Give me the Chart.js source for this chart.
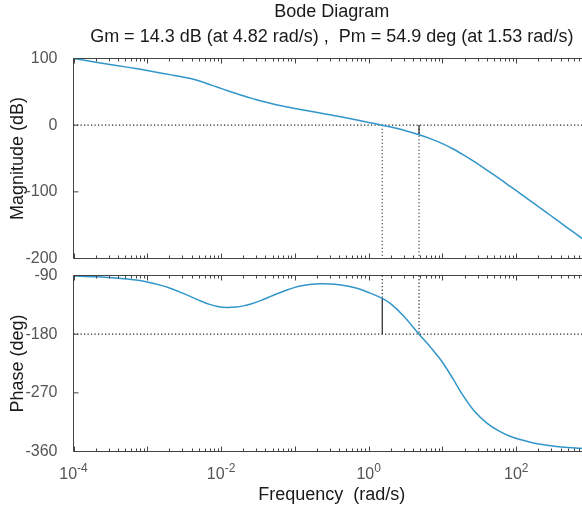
<!DOCTYPE html>
<html>
<head>
<meta charset="utf-8">
<script src="https://cdn.jsdelivr.net/npm/chart.js@4.4.0/dist/chart.umd.min.js"></script>
<style>
  html, body { margin: 0; padding: 0; background: #fff; overflow: hidden; }
  #wrap { position: relative; width: 582px; height: 508px; overflow: hidden; }
  canvas { position: absolute; left: 0; }
  #magChart { top: 0; }
  #phaseChart { top: 266px; }
</style>
</head>
<body>
<div id="wrap">
  <canvas id="magChart" width="600" height="266"></canvas>
  <canvas id="phaseChart" width="600" height="242"></canvas>
</div>
<script>
// frequences (rad/s) et valeurs
const freq = [1e-4, 2e-4, 4e-4, 7e-4, 1e-3, 1.5e-3, 2e-3, 3e-3, 4e-3, 5.5e-3,
              7e-3, 9e-3, 0.012, 0.016, 0.02, 0.026, 0.035, 0.045, 0.06, 0.08,
              0.1, 0.13, 0.17, 0.22, 0.3, 0.4, 0.55, 0.75, 1, 1.53,
              2, 3, 4.82, 7, 10, 14, 19, 27, 40, 58,
              82, 120, 170, 250, 350, 500, 700, 1000];
const magDb = [100, 94.5, 89.2, 84.9, 81.9, 78.3, 75.8, 72.4, 69.5, 65,
               61, 56.8, 52, 47.4, 44, 40.2, 36.2, 33.1, 29.9, 27.1,
               25, 22.7, 20.4, 18.2, 15.5, 12.9, 9.9, 6.9, 4.1, 0,
               -2.8, -7.6, -14.3, -20.5, -27.7, -35.8, -44.3, -54.8, -67.4, -79.6,
               -91.4, -104.4, -116.5, -130, -141.8, -154.3, -166.1, -178.6];
const phaseDeg = [-90.8, -92, -94.1, -97, -100, -104.8, -109.3, -117, -123.1, -129.9,
                  -134.3, -137.5, -139, -138.3, -136.6, -133.2, -128.2, -123, -117.2, -111.8,
                  -108.2, -105.3, -103.5, -102.7, -102.9, -104.2, -107, -110.8, -116, -125.1,
                  -133.5, -152.5, -180, -201, -223, -249, -274, -298, -316.5, -328.5,
                  -336.5, -342.5, -346.8, -350.2, -352.4, -354, -355.1, -356];

const xLabelVals = [1e-4, 1e-2, 1, 1e2];
const magTicks = [100, 0, -100, -200];
const phaseTicks = [-90, -180, -270, -360];

// marges
const gmDb = 14.3, gmFreq = 4.82;
const pmDeg = 54.9, pmFreq = 1.53;

const FONT = '"Liberation Sans", Arial, Helvetica, sans-serif';
const curveColor = '#3296ca';

function curve(ys) {
    return {
        data: freq.map((f, i) => ({ x: f, y: ys[i] })),
        borderColor: curveColor,
        borderWidth: 1.5,
        pointRadius: 0,
        tension: 0.3
    };
}

function guide(pts, dotted) {
    return {
        data: pts,
        borderColor: dotted ? '#222' : '#333',
        borderWidth: dotted ? 1.2 : 1.3,
        borderDash: dotted ? [1.2, 2.3] : [],
        pointRadius: 0,
        tension: 0
    };
}

// cadre + petites graduations vers l'interieur (style MATLAB)
const framePlugin = {
    id: 'frame',
    afterDatasetsDraw(chart, args, opts) {
        const { ctx, chartArea: a, scales: { x, y } } = chart;
        ctx.save();
        ctx.strokeStyle = '#444';
        ctx.lineWidth = 1;
        ctx.beginPath();
        ctx.rect(a.left, a.top, a.right - a.left, a.bottom - a.top);
        for (let d = -4; d < 3; d++) {
            for (let k = 1; k <= 9; k++) {
                const px = Math.round(x.getPixelForValue(k * Math.pow(10, d))) + 0.5;
                const len = k === 1 ? 5 : 3;
                ctx.moveTo(px, a.top); ctx.lineTo(px, a.top + len);
                ctx.moveTo(px, a.bottom); ctx.lineTo(px, a.bottom - len);
            }
        }
        opts.yTicks.forEach(v => {
            const py = y.getPixelForValue(v);
            ctx.moveTo(a.left, py); ctx.lineTo(a.left + 5, py);
        });
        ctx.stroke();
        ctx.restore();
    }
};

// etiquettes 10^n de l'axe des frequences
const expLabels = {
    id: 'expLabels',
    afterDraw(chart) {
        const { ctx, chartArea: a, scales: { x } } = chart;
        ctx.save();
        ctx.fillStyle = '#555';
        ctx.textAlign = 'left';
        ctx.textBaseline = 'alphabetic';
        xLabelVals.forEach(v => {
            const base = '10';
            const sup = String(Math.round(Math.log10(v)));
            ctx.font = '16px ' + FONT;
            const wb = ctx.measureText(base).width;
            ctx.font = '12px ' + FONT;
            const ws = ctx.measureText(sup).width;
            const sx = x.getPixelForValue(v) - (wb + ws) / 2;
            ctx.font = '16px ' + FONT;
            ctx.fillText(base, sx, a.bottom + 27.5);
            ctx.font = '12px ' + FONT;
            ctx.fillText(sup, sx + wb, a.bottom + 20.5);
        });
        ctx.restore();
    }
};

function yScale(min, max, ticks, title) {
    return {
        min: min,
        max: max,
        afterBuildTicks: s => { s.ticks = ticks.map(v => ({ value: v })); },
        afterFit: s => { s.width = 73.5; s.paddingTop = 0; s.paddingBottom = 0; },
        grid: { display: false },
        border: { display: false },
        ticks: { color: '#555', padding: 8, font: { family: FONT, size: 16 } },
        title: { display: true, text: title, color: '#1a1a1a', padding: { top: 7, bottom: 0 }, font: { family: FONT, size: 18 } }
    };
}

Chart.defaults.animation = false;
Chart.defaults.font.family = FONT;

// --- Amplitude ---
new Chart(document.getElementById('magChart'), {
    type: 'line',
    data: {
        datasets: [
            curve(magDb),
            guide([{ x: 1e-4, y: 0 }, { x: 1e3, y: 0 }], true),
            guide([{ x: pmFreq, y: 0 }, { x: pmFreq, y: -200 }], true),
            guide([{ x: gmFreq, y: 0 }, { x: gmFreq, y: -200 }], true),
            guide([{ x: gmFreq, y: 0 }, { x: gmFreq, y: -gmDb }], false)
        ]
    },
    options: {
        responsive: false,
        layout: { padding: { left: 0, right: 10, top: 0, bottom: 7.5 } },
        scales: {
            x: { type: 'logarithmic', min: 1e-4, max: 1e3, display: false },
            y: yScale(-200, 100, magTicks, 'Magnitude (dB)')
        },
        plugins: {
            legend: { display: false },
            tooltip: { enabled: false },
            title: {
                display: true,
                fullSize: false,
                text: ['Bode Diagram', 'Gm = 14.3 dB (at 4.82 rad/s) ,  Pm = 54.9 deg (at 1.53 rad/s)'],
                color: '#1a1a1a',
                font: { family: FONT, size: 18, weight: 'normal', lineHeight: 25 / 18 },
                padding: { top: 0, bottom: 8.5 }
            },
            frame: { yTicks: magTicks }
        }
    },
    plugins: [framePlugin]
});

// --- Phase ---
new Chart(document.getElementById('phaseChart'), {
    type: 'line',
    data: {
        datasets: [
            curve(phaseDeg),
            guide([{ x: 1e-4, y: -180 }, { x: 1e3, y: -180 }], true),
            guide([{ x: pmFreq, y: -90 }, { x: pmFreq, y: -180 + pmDeg }], true),
            guide([{ x: pmFreq, y: -180 + pmDeg }, { x: pmFreq, y: -180 }], false),
            guide([{ x: gmFreq, y: -90 }, { x: gmFreq, y: -180 }], true)
        ]
    },
    options: {
        responsive: false,
        layout: { padding: { left: 0, right: 10, top: 9.5, bottom: 0 } },
        scales: {
            x: {
                type: 'logarithmic', min: 1e-4, max: 1e3,
                afterFit: s => { s.height = 56.5; },
                grid: { display: false },
                border: { display: false },
                ticks: { display: false },
                title: { display: true, text: 'Frequency  (rad/s)', color: '#1a1a1a', padding: { top: 0, bottom: 2.4 }, font: { family: FONT, size: 18 } }
            },
            y: yScale(-360, -90, phaseTicks, 'Phase (deg)')
        },
        plugins: {
            legend: { display: false },
            tooltip: { enabled: false },
            frame: { yTicks: phaseTicks }
        }
    },
    plugins: [framePlugin, expLabels]
});
</script>
</body>
</html>
